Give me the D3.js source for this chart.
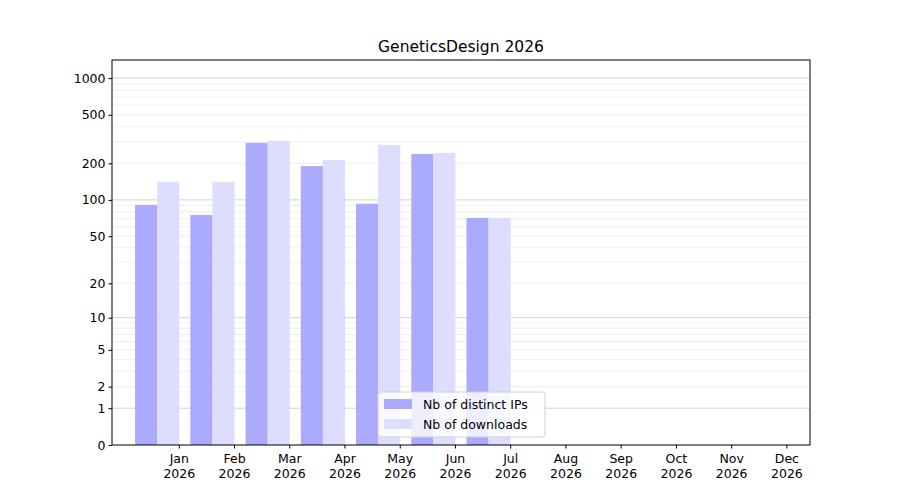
<!DOCTYPE html>
<html><head><meta charset="utf-8">
<script src="https://cdn.jsdelivr.net/npm/d3@7"></script>
<style>body{margin:0;background:#fff}text{font-family:"DejaVu Sans",sans-serif}</style>
</head><body><svg id="plot" width="900" height="500"></svg>
<script>
const months = ['Jan','Feb','Mar','Apr','May','Jun','Jul','Aug','Sep','Oct','Nov','Dec'];
const ips = [91, 75, 295, 190, 93, 239, 71, 0, 0, 0, 0, 0];
const downloads = [141, 141, 305, 213, 283, 244, 71, 0, 0, 0, 0, 0];
const tickVals = [0, 1, 2, 5, 10, 20, 50, 100, 200, 500, 1000];
const majorGrid = [1, 10, 100, 1000];

const svg = d3.select('#plot');
const L = 112, R = 810, T = 60, B = 445;

const x = d3.scaleBand().domain(months).range([L + 1, R - 1]).paddingInner(0.2).paddingOuter(0.4);
const y = d3.scaleSymlog().constant(1).domain([0, 1407]).range([B, T]);

// minor grid
let minor = [];
for (let d = 1; d <= 1000; d *= 10) for (let k = 2; k <= 9; k++) if (d * k < 1407) minor.push(d * k);
svg.append('g').selectAll('line').data(minor).enter().append('line')
  .attr('x1', L).attr('x2', R).attr('y1', d => y(d)).attr('y2', d => y(d))
  .attr('stroke', '#ebebeb').attr('stroke-width', 0.8);
svg.append('g').selectAll('line').data(majorGrid).enter().append('line')
  .attr('x1', L).attr('x2', R).attr('y1', d => y(d)).attr('y2', d => y(d))
  .attr('stroke', '#c8c8c8').attr('stroke-width', 0.8);

const bw = x.bandwidth() / 2;
svg.append('g').selectAll('rect').data(ips).enter().append('rect')
  .attr('x', (d, i) => x(months[i])).attr('width', bw)
  .attr('y', d => y(d)).attr('height', d => B - y(d)).attr('fill', '#aaaaff');
svg.append('g').selectAll('rect').data(downloads).enter().append('rect')
  .attr('x', (d, i) => x(months[i]) + bw).attr('width', bw)
  .attr('y', d => y(d)).attr('height', d => B - y(d)).attr('fill', '#ddddff');

svg.append('rect').attr('x', L).attr('y', T).attr('width', R - L).attr('height', B - T)
  .attr('fill', 'none').attr('stroke', '#000').attr('stroke-width', 1);

const ya = svg.append('g').attr('transform', `translate(${L},0)`)
  .call(d3.axisLeft(y).tickValues(tickVals).tickFormat(d3.format('d')).tickSizeOuter(0).tickSize(3.5));
ya.select('.domain').remove();
ya.selectAll('text').attr('font-size', 12.5).attr('fill', '#000');

const xa = svg.append('g').attr('transform', `translate(0,${B})`)
  .call(d3.axisBottom(x).tickSize(3.5).tickSizeOuter(0));
xa.select('.domain').remove();
xa.selectAll('.tick text').remove();
xa.selectAll('.tick').append('text').attr('fill', '#000').attr('font-size', 12.5)
  .attr('text-anchor', 'middle')
  .selectAll('tspan').data(d => [d, '2026']).enter().append('tspan')
  .attr('x', bw).attr('dy', (d, i) => i ? '1.15em' : '1.45em').text(d => d);
xa.selectAll('.tick line').attr('x1', bw).attr('x2', bw);

svg.append('text').attr('x', 461).attr('y', 52).attr('text-anchor', 'middle')
  .attr('font-size', 15.5).text('GeneticsDesign 2026');

const lg = svg.append('g').attr('transform', 'translate(378,392)');
lg.append('rect').attr('width', 167).attr('height', 45).attr('rx', 3)
  .attr('fill', 'rgba(255,255,255,0.8)').attr('stroke', '#d0d0d0');
[['Nb of distinct IPs', '#aaaaff'], ['Nb of downloads', '#ddddff']].forEach((e, i) => {
  lg.append('rect').attr('x', 6).attr('y', 7 + i * 20).attr('width', 28).attr('height', 10).attr('fill', e[1]);
  lg.append('text').attr('x', 45).attr('y', 17 + i * 20).attr('font-size', 12.5).text(e[0]);
});
</script></body></html>
